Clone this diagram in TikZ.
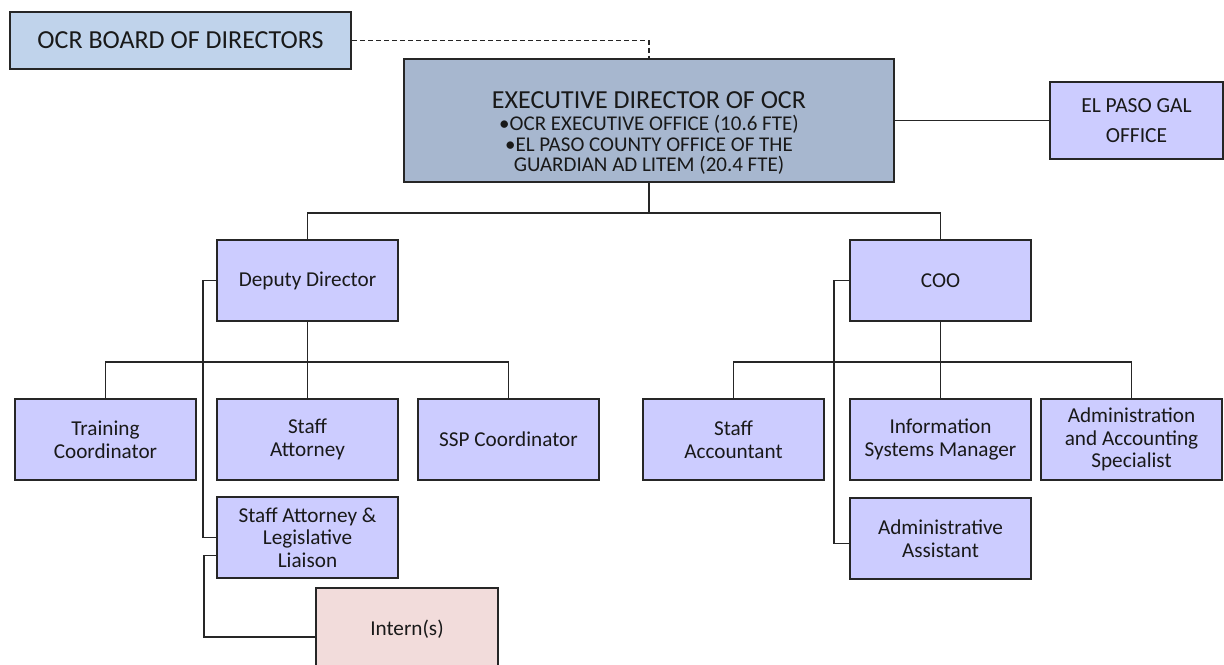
\documentclass[tikz,border=0pt]{standalone}
\usepackage{fontspec}
\setmainfont{Carlito}
\usepackage{tikz}
\usetikzlibrary{positioning, calc}
\definecolor{boardblue}{HTML}{C0D3EB}
\definecolor{execblue}{HTML}{A7B7CF}
\definecolor{boxlav}{HTML}{CCCCFF}
\definecolor{internpink}{HTML}{F2DCDB}

\begin{document}
\begin{tikzpicture}[x=0.5pt,y=-0.5pt,node distance=10pt,
			box/.style={rectangle,draw=black!85,line width=1pt,fill=boxlav,minimum width=90.5pt,minimum height=40.5pt,
				align=center,inner sep=2pt,text=black!90,font=\fontsize{10.6}{11.3}\selectfont},
			link/.style={draw=black!85,line width=0.75pt}]
			
			\useasboundingbox (0,0) rectangle (1224,664);
			\clip (0,0) rectangle (1224,664);
			
			\node[box,fill=boardblue,minimum width=170.5pt,minimum height=28.5pt,font=\fontsize{13}{13}\selectfont] (board) at (180.5,40.5) {OCR BOARD OF DIRECTORS};
			\node[box,fill=execblue,minimum width=245pt,minimum height=61.5pt,font=\fontsize{10.5}{10.25}\selectfont] (exec) at (649,120.5)
				{\rule{0pt}{21pt}{\fontsize{13}{13}\selectfont EXECUTIVE DIRECTOR OF OCR}\\[1pt]•OCR EXECUTIVE OFFICE (10.6 FTE)\\•EL PASO COUNTY OFFICE OF THE\\GUARDIAN AD LITEM (20.4 FTE)};
			\node[box,minimum width=86.5pt,minimum height=38.5pt,font=\fontsize{10.75}{15}\selectfont] (gal) at (1136.5,120.5) {EL PASO GAL\\OFFICE};
			
			\node[box] (deputy) at (307.5,280.5) {Deputy Director};
			\node[box] (staff) [below=38pt of deputy] {Staff\\Attorney};
			\node[box] (train) [left=9.5pt of staff] {Training\\Coordinator};
			\node[box] (ssp) [right=9pt of staff] {SSP Coordinator};
			\node[box] (sall) [below=7.5pt of staff] {Staff Attorney \&\\Legislative\\Liaison};
			\node[box,fill=internpink,minimum width=91pt,minimum height=41pt] (intern) at (407,629) {Intern(s)};
			
			\node[box] (coo) at (940.5,280.5) {COO};
			\node[box] (ism) [below=38pt of coo] {Information\\Systems Manager};
			\node[box] (acct) [left=12pt of ism] {Staff\\Accountant};
			\node[box] (aas) [right=4pt of ism] {Administration\\and Accounting\\Specialist};
			\node[box] (aa) [below=8pt of ism] {Administrative\\Assistant};
			
			\coordinate (top) at ([yshift=-15pt]exec.south);
			\coordinate (dep) at ([yshift=-20pt]deputy.south);
			\coordinate (ops) at ([yshift=-20pt]coo.south);
			
			\draw[link,dash pattern=on 2.5pt off 1.5pt] (board) -| (exec);
			\path[link] (exec) edge (gal);
			\draw[link] (exec) -- (top) -| (deputy);
			\draw[link] (top) -| (coo);
			\draw[link] (deputy) -- (dep) -| (train);
			\draw[link] (dep) -- (staff);
			\draw[link] (dep) -| (ssp);
			\draw[link] (deputy.west) -- ++(-13,0) |- (sall.west);
			\draw[link] ([yshift=-9pt]sall.west) -- ++(-12,0) |- ([yshift=-4pt]intern.west);
			\draw[link] (coo) -- (ops) -| (acct);
			\draw[link] (ops) -- (ism);
			\draw[link] (ops) -| (aas);
			\draw[link] (coo.west) -- ++(-15,0) |- ([yshift=-2.5pt]aa.west);
		\end{tikzpicture}
\end{document}
